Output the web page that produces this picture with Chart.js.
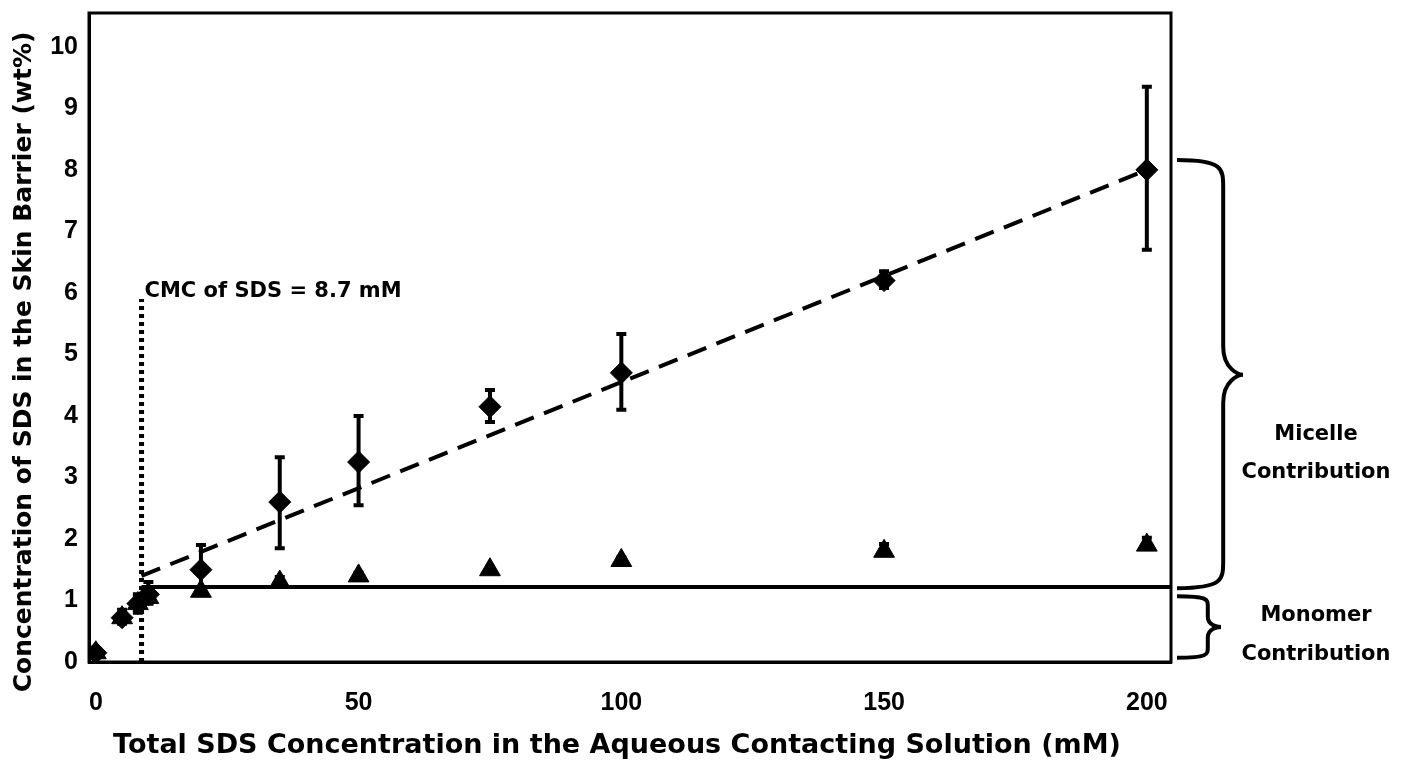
<!DOCTYPE html>
<html>
<head>
<meta charset="utf-8">
<script src="https://cdn.jsdelivr.net/npm/chart.js@4.4.1/dist/chart.umd.min.js"></script>
<style>
  html, body { margin: 0; padding: 0; background: #fff; }
  #wrap { width: 1404px; height: 766px; }
</style>
</head>
<body>
<div id="wrap"><canvas id="myChart" width="1404" height="766"></canvas></div>
<script>
// SDS concentrations in the contacting solution (mM)
const concentrations = [0, 5, 8, 10, 20, 35, 50, 75, 100, 150, 200];

// total SDS in the skin barrier (diamonds), with error bar limits
const totalSDS  = [0.15, 0.72, 0.95, 1.1, 1.5, 2.6, 3.25, 4.15, 4.7, 6.2, 8.0];
const totalLow  = [0.1, 0.62, 0.8, 0.95, 1.12, 1.85, 2.55, 3.9, 4.1, 6.08, 6.7];
const totalHigh = [0.22, 0.85, 1.1, 1.3, 1.9, 3.33, 4.0, 4.42, 5.33, 6.35, 9.35];

// monomer part (triangles), with error bar limits
const monomerSDS  = [0.15, 0.72, 0.95, 1.05, 1.15, 1.3, 1.4, 1.5, 1.65, 1.8, 1.9];
const monomerLow  = [0.1, 0.65, 0.85, 0.95, 1.15, 1.25, 1.4, 1.5, 1.65, 1.78, 1.88];
const monomerHigh = [0.2, 0.8, 1.05, 1.15, 1.15, 1.38, 1.45, 1.5, 1.7, 1.92, 2.02];

// guide lines
const cmc = 8.7;
const fitLineX = [8.7, 200];
const fitLineY = [1.4, 8.0];
const monomerLevel = 1.22;
const cmcLineTop = 5.9;

const yTicks = [0, 1, 2, 3, 4, 5, 6, 7, 8, 9, 10];
const xTicks = [0, 50, 100, 150, 200];

const xMin = -1.3, xMax = 204.6, yMin = 0, yMax = 10.55;

const xTitle = 'Total SDS Concentration in the Aqueous Contacting Solution (mM)';
const yTitle = 'Concentration of SDS in the Skin Barrier (wt%)';

const WIDE = "'DejaVu Sans', 'Liberation Sans', Arial, sans-serif";
const NARROW = "'Liberation Sans', Arial, sans-serif";

function pts(xs, ys) {
  return xs.map((x, i) => ({ x: x, y: ys[i] }));
}

// error bars drawn with the scales
const errorBars = {
  id: 'errorBars',
  afterDatasetsDraw(chart) {
    const ctx = chart.ctx;
    const xs = chart.scales.x, ys = chart.scales.y;
    const sets = [[totalLow, totalHigh], [monomerLow, monomerHigh]];
    ctx.save();
    ctx.strokeStyle = '#000';
    ctx.lineWidth = 4;
    sets.forEach(([lo, hi]) => {
      concentrations.forEach((c, i) => {
        if (hi[i] - lo[i] < 0.01) return;
        const px = xs.getPixelForValue(c);
        const y1 = ys.getPixelForValue(lo[i]);
        const y2 = ys.getPixelForValue(hi[i]);
        ctx.beginPath();
        ctx.moveTo(px, y1); ctx.lineTo(px, y2);
        ctx.moveTo(px - 5, y1); ctx.lineTo(px + 5, y1);
        ctx.moveTo(px - 5, y2); ctx.lineTo(px + 5, y2);
        ctx.stroke();
      });
    });
    ctx.restore();
  }
};

// frame, titles, braces and notes
const notes = {
  id: 'notes',
  afterDraw(chart) {
    const ctx = chart.ctx;
    const a = chart.chartArea;
    const xs = chart.scales.x, ys = chart.scales.y;
    ctx.save();
    ctx.strokeStyle = '#000';
    ctx.lineWidth = 3;
    ctx.strokeRect(a.left, a.top, a.right - a.left, a.bottom - a.top);

    ctx.fillStyle = '#000';
    ctx.textBaseline = 'middle';

    // axis titles
    ctx.font = 'bold 27px ' + WIDE;
    ctx.textAlign = 'center';
    ctx.fillText(xTitle, 617, 746);
    ctx.save();
    ctx.translate(24, 362);
    ctx.rotate(-Math.PI / 2);
    ctx.font = 'bold 25px ' + WIDE;
    ctx.fillText(yTitle, 0, 0);
    ctx.restore();

    ctx.font = 'bold 21px ' + WIDE;
    ctx.textAlign = 'left';
    ctx.fillText('CMC of SDS = 8.7 mM', xs.getPixelForValue(cmc) + 3, ys.getPixelForValue(6.02));

    function brace(top, bottom, x0, depth, tip) {
      const yt = ys.getPixelForValue(top);
      const yb = ys.getPixelForValue(bottom);
      const ym = ys.getPixelForValue(tip);
      const xv = x0 + depth * 0.7;
      const r = Math.min(28, (yb - yt) / 6);
      ctx.beginPath();
      ctx.moveTo(x0, yt);
      ctx.bezierCurveTo(xv, yt, xv, yt + r * 0.3, xv, yt + r);
      ctx.lineTo(xv, ym - r);
      ctx.bezierCurveTo(xv, ym - r * 0.2, xv + depth * 0.3 - 4, ym, x0 + depth, ym);
      ctx.bezierCurveTo(xv + depth * 0.3 - 4, ym, xv, ym + r * 0.2, xv, ym + r);
      ctx.lineTo(xv, yb - r);
      ctx.bezierCurveTo(xv, yb - r * 0.3, xv, yb, x0, yb);
      ctx.stroke();
    }
    ctx.lineWidth = 4;
    brace(8.16, 1.2, a.right + 6, 66, 4.67);
    brace(1.07, 0.07, a.right + 6, 44, 0.57);

    ctx.font = 'bold 21px ' + WIDE;
    ctx.textAlign = 'center';
    ctx.fillText('Micelle', 1316, 435);
    ctx.fillText('Contribution', 1316, 473);
    ctx.fillText('Monomer', 1316, 616);
    ctx.fillText('Contribution', 1316, 655);
    ctx.restore();
  }
};

function noPad(s) {
  s.paddingTop = 0; s.paddingBottom = 0;
  s.paddingLeft = 0; s.paddingRight = 0;
}

const ctx = document.getElementById('myChart').getContext('2d');
const myChart = new Chart(ctx, {
  type: 'scatter',
  data: {
    datasets: [
      {
        type: 'line',
        data: pts(fitLineX, fitLineY),
        borderColor: '#000',
        borderWidth: 4,
        borderDash: [20, 11],
        pointRadius: 0,
        fill: false
      },
      {
        type: 'line',
        data: pts([cmc, xMax], [monomerLevel, monomerLevel]),
        borderColor: '#000',
        borderWidth: 4,
        pointRadius: 0,
        fill: false
      },
      {
        type: 'line',
        data: pts([cmc, cmc], [0, cmcLineTop]),
        borderColor: '#000',
        borderWidth: 5,
        borderDash: [4, 4],
        pointRadius: 0,
        fill: false
      },
      {
        label: 'Total',
        data: pts(concentrations, totalSDS),
        pointStyle: 'rectRot',
        pointRadius: 11,
        backgroundColor: '#000',
        borderColor: '#000',
        borderWidth: 1
      },
      {
        label: 'Monomer',
        data: pts(concentrations, monomerSDS),
        pointStyle: 'triangle',
        pointRadius: 12,
        backgroundColor: '#000',
        borderColor: '#000',
        borderWidth: 1
      }
    ]
  },
  options: {
    responsive: false,
    animation: false,
    layout: { padding: { top: 13, right: 233, left: 0, bottom: 0 } },
    plugins: {
      legend: { display: false },
      tooltip: { enabled: false }
    },
    scales: {
      x: {
        type: 'linear',
        min: xMin,
        max: xMax,
        afterBuildTicks: s => { s.ticks = xTicks.map(v => ({ value: v })); },
        afterFit: s => { s.height = 104; noPad(s); },
        grid: { display: false, drawTicks: false },
        border: { display: true, color: '#000', width: 3 },
        ticks: {
          color: '#000',
          padding: 26,
          font: { family: NARROW, size: 25, weight: 'bold' }
        }
      },
      y: {
        type: 'linear',
        min: yMin,
        max: yMax,
        afterBuildTicks: s => { s.ticks = yTicks.map(v => ({ value: v })); },
        afterFit: s => { s.width = 89; noPad(s); },
        grid: { display: false, drawTicks: false },
        border: { display: true, color: '#000', width: 3 },
        ticks: {
          color: '#000',
          padding: 11,
          font: { family: NARROW, size: 25, weight: 'bold' }
        }
      }
    }
  },
  plugins: [errorBars, notes]
});
</script>
</body>
</html>
